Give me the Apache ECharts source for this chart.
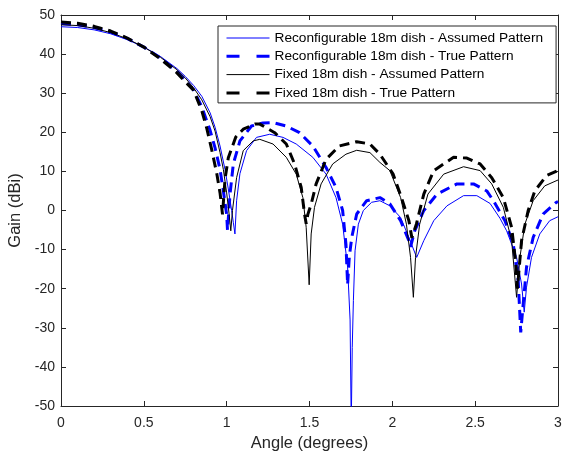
<!DOCTYPE html>
<html>
<head>
<meta charset="utf-8">
<script src="https://cdn.jsdelivr.net/npm/echarts@6/dist/echarts.min.js"></script>
<style>
html,body{margin:0;padding:0;background:#fff;}
#chart{width:562px;height:453px;}
</style>
</head>
<body>
<div id="chart"></div>
<script>
// Reconfigurable 18m dish - Assumed Pattern (thin blue)
const recAssumedAngle = [0,0.1,0.2,0.3,0.4,0.5,0.6,0.7,0.75,0.8,0.85,0.9,0.93,0.96,0.99,1.01,1.03,1.04,1.05,1.06,1.08,1.12,1.18,1.26,1.34,1.42,1.52,1.60,1.66,1.70,1.73,1.745,1.752,1.758,1.765,1.775,1.795,1.825,1.875,1.925,1.985,2.05,2.10,2.147,2.19,2.25,2.33,2.43,2.51,2.59,2.65,2.69,2.75,2.78,2.796,2.81,2.84,2.89,2.95,3.0];
const recAssumedGain  = [47.0,46.8,46.2,45.2,43.7,41.8,39.4,36.3,34.3,32.0,29.2,25.0,21.3,16.5,10.5,5.5,0,-3,-6,2.5,9.4,15.3,18.7,19.5,18.7,17.0,13.6,9.3,3.3,-3.5,-14.5,-28,-55,-35,-23,-10.3,-3.5,0,2.1,2.5,1.2,-1.8,-6.9,-12,-7.7,-2.6,1.2,3.8,3.8,1.8,-2.0,-5.2,-12,-18.8,-26,-19.6,-12,-6,-2.6,-1.6];

// Reconfigurable 18m dish - True Pattern (dashed blue)
const recTrueAngle = [0,0.1,0.2,0.3,0.4,0.5,0.6,0.7,0.75,0.8,0.85,0.9,0.93,0.96,0.98,1.0,1.005,1.02,1.04,1.08,1.15,1.22,1.28,1.36,1.44,1.52,1.60,1.66,1.70,1.72,1.73,1.74,1.755,1.785,1.845,1.925,1.985,2.05,2.10,2.11,2.135,2.19,2.27,2.39,2.49,2.57,2.61,2.68,2.73,2.76,2.775,2.79,2.81,2.85,2.91,2.99,3.0];
const recTrueGain  = [47.8,47.5,46.8,45.6,44.0,41.8,39.0,35.6,33.4,30.8,26.5,20.5,16.0,10.5,5.0,-1,-5,4,11.9,17.8,21.6,22.4,22.5,21.6,19.9,16.5,11,5.9,0,-8.6,-19,-12,-6.9,-0.9,2.5,3.3,1.7,-2.6,-7.7,-9.3,-5.2,0,4.2,6.8,6.8,5.0,2.5,-2.6,-8.6,-18,-31.2,-23.9,-14.5,-6.9,-0.9,2.1,2.3];

// Fixed 18m dish - Assumed Pattern (thin black)
const fixAssumedAngle = [0,0.1,0.2,0.3,0.4,0.5,0.6,0.7,0.75,0.8,0.85,0.9,0.93,0.96,0.98,1.0,1.015,1.025,1.035,1.06,1.10,1.16,1.20,1.28,1.36,1.42,1.46,1.48,1.498,1.51,1.53,1.57,1.64,1.72,1.785,1.865,1.925,1.985,2.05,2.085,2.11,2.127,2.14,2.165,2.215,2.31,2.43,2.53,2.60,2.67,2.72,2.75,2.77,2.80,2.85,2.92,3.0];
const fixAssumedGain  = [47.5,47.3,46.6,45.5,43.9,41.8,39.2,36.0,33.9,31.4,28.3,24.0,20.3,14.8,10.5,4.5,-1,-5.2,0,8.4,15.3,17.8,18.2,17.0,13.6,9.3,3.3,-4.3,-19,-6,0.8,6.8,11.9,14.4,15.4,14.8,12.3,10.2,3.3,-3.5,-12,-22.2,-12,-3.5,4.2,9.3,11.2,10.2,6.8,0.8,-7.7,-22.2,-12,-3.5,2.5,6.3,7.8];

// Fixed 18m dish - True Pattern (dashed black)
const fixTrueAngle = [0,0.1,0.2,0.3,0.4,0.5,0.6,0.7,0.75,0.8,0.85,0.88,0.91,0.94,0.96,0.975,0.99,1.01,1.055,1.10,1.17,1.20,1.29,1.36,1.41,1.45,1.47,1.48,1.49,1.51,1.54,1.60,1.68,1.785,1.865,1.925,2.005,2.055,2.10,2.118,2.145,2.19,2.25,2.37,2.45,2.53,2.60,2.67,2.72,2.746,2.755,2.78,2.82,2.86,2.93,3.0];
const fixTrueGain  = [48.2,47.9,47.1,45.9,44.1,41.8,38.8,35.2,32.9,30.8,25.5,21.0,15.5,9.5,4.5,-1,8,13.5,18.8,20.8,22.1,22.1,19.9,17.0,11.9,5.9,-0.9,-3.4,-1,1.6,6.8,13.1,16.5,17.6,17.0,14.4,9.3,3.3,-2.6,-7,-3.5,4.2,10.2,13.6,13.4,11.9,8.4,3.3,-4.3,-13.7,-20,-7.7,0,5,8.9,10.2];

const seriesNames = [
  'Reconfigurable 18m dish - Assumed Pattern',
  'Reconfigurable 18m dish - True Pattern',
  'Fixed 18m dish - Assumed Pattern',
  'Fixed 18m dish - True Pattern'
];
const xTicks = {min: 0, max: 3, interval: 0.5};
const yTicks = {min: -50, max: 50, interval: 10};

function zip(a, b) { return a.map((v, i) => [v, b[i]]); }

const FONT = 'Liberation Sans, Arial, Helvetica, sans-serif';
const AX = '#262626';

const chart = echarts.init(document.getElementById('chart'), null, {renderer: 'canvas'});

function mkSeries(name, data, color, width, type) {
  return {
    name: name, type: 'line', data: data, showSymbol: false, symbol: 'none',
    smooth: false, clip: true, animation: false,
    lineStyle: {color: color, width: width, type: type},
    itemStyle: {color: color},
    xAxisIndex: 0, yAxisIndex: 0
  };
}

const axisCommon = {
  axisLine: {show: true, onZero: false, lineStyle: {color: AX, width: 1}},
  axisTick: {show: true, inside: true, length: 5, lineStyle: {color: AX}},
  splitLine: {show: false}
};

const legendLine = [
  {width: 1, type: 'solid'},
  {width: 3, type: [13, 17]},
  {width: 1, type: 'solid'},
  {width: 3, type: [13, 17]}
];

chart.setOption({
  animation: false,
  backgroundColor: '#fff',
  textStyle: {fontFamily: FONT},
  grid: {left: 61, right: 4, top: 15, bottom: 47, containLabel: false, outerBoundsMode: 'none'},
  legend: {
    show: true,
    orient: 'vertical',
    left: 218, top: 26,
    padding: [5, 13, 3, 7],
    itemWidth: 43, itemHeight: 14, itemGap: 4.3,
    backgroundColor: '#fff',
    borderColor: AX, borderWidth: 1, borderRadius: 0,
    itemStyle: {opacity: 0, borderWidth: 0},
    textStyle: {fontFamily: FONT, fontSize: 13.7, color: '#000'},
    data: seriesNames.map((n, i) => ({name: n, lineStyle: legendLine[i]}))
  },
  xAxis: [
    Object.assign({}, axisCommon, {
      type: 'value', position: 'bottom', min: xTicks.min, max: xTicks.max, interval: xTicks.interval,
      name: 'Angle (degrees)', nameLocation: 'middle', nameGap: 25,
      nameTextStyle: {fontFamily: FONT, fontSize: 16.5, color: AX},
      axisLabel: {fontFamily: FONT, fontSize: 14, color: AX, margin: 10}
    }),
    Object.assign({}, axisCommon, {
      type: 'value', position: 'top', min: xTicks.min, max: xTicks.max, interval: xTicks.interval,
      axisLabel: {show: false}
    })
  ],
  yAxis: [
    Object.assign({}, axisCommon, {
      type: 'value', position: 'left', min: yTicks.min, max: yTicks.max, interval: yTicks.interval,
      name: 'Gain (dBi)', nameLocation: 'middle', nameGap: 36,
      nameTextStyle: {fontFamily: FONT, fontSize: 16.5, color: AX},
      axisLabel: {fontFamily: FONT, fontSize: 14, color: AX, margin: 6}
    }),
    Object.assign({}, axisCommon, {
      type: 'value', position: 'right', min: yTicks.min, max: yTicks.max, interval: yTicks.interval,
      axisLabel: {show: false}
    })
  ],
  series: [
    mkSeries(seriesNames[0], zip(recAssumedAngle, recAssumedGain), '#0000ff', 1, 'solid'),
    mkSeries(seriesNames[1], zip(recTrueAngle, recTrueGain), '#0000ff', 3, [10, 6]),
    mkSeries(seriesNames[2], zip(fixAssumedAngle, fixAssumedGain), '#000000', 1, 'solid'),
    mkSeries(seriesNames[3], zip(fixTrueAngle, fixTrueGain), '#000000', 3, [10, 6])
  ]
});
</script>
</body>
</html>
